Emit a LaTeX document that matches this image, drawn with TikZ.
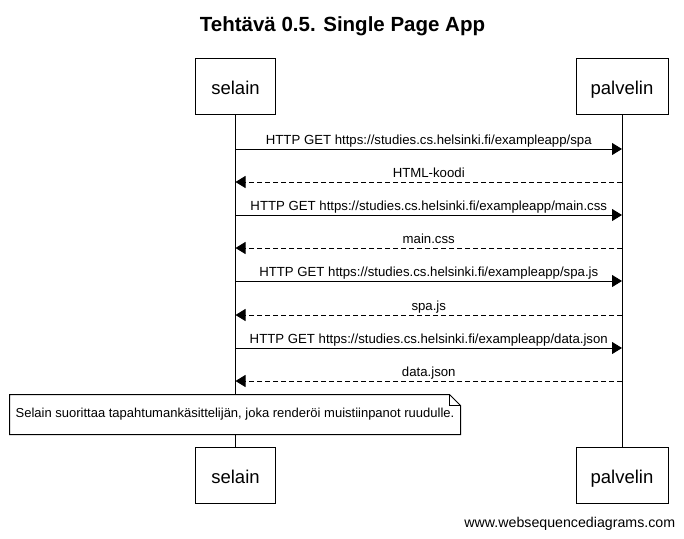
\documentclass[tikz,border=0pt]{standalone}
\usepackage{fontspec}
\setmainfont{Liberation Sans}
\usetikzlibrary{arrows.meta}

\begin{document}
\begin{tikzpicture}
[x=1pt,y=-1pt,line width=1pt,
 actor/.style={draw,fill=white,minimum height=56pt,inner sep=0pt,text height=16pt,text depth=0pt,font=\fontsize{18.5}{22}\selectfont},
 req/.style={-{Triangle[length=10pt,width=12pt]}},
 resp/.style={req,dash pattern=on 5pt off 3pt},
 msg/.style={anchor=base,yshift=4.5pt,inner sep=0pt,font=\fontsize{13.2}{15}\selectfont}]
\useasboundingbox (0,0) rectangle (684,538);
\node[anchor=base,font=\bfseries\fontsize{20.5}{24}\selectfont] (title) at (342.5,31.7) {Tehtävä 0.5. Single Page App};
% participants, top and bottom
\node[actor,minimum width=80pt] (s0) at (235.5,86) {selain};
\node[actor,minimum width=92pt] (p0) at (622,86) {palvelin};
\node[actor,minimum width=80pt] (s9) at (235.5,475.5) {selain};
\node[actor,minimum width=92pt] (p9) at (622,475.5) {palvelin};
\draw (s0) -- (s9);
\draw (p0) -- (p9);
\foreach \i/\y in {1/149,2/182,3/215,4/248,5/281,6/315,7/348,8/381}
{\coordinate (s\i) at (235.5,\y); \coordinate (p\i) at (622,\y);}
% messages
\foreach \from/\to/\kind/\txt in {
 s1/p1/req/{HTTP GET https://studies.cs.helsinki.fi/exampleapp/spa},
 p2/s2/resp/{HTML-koodi},
 s3/p3/req/{HTTP GET https://studies.cs.helsinki.fi/exampleapp/main.css},
 p4/s4/resp/{main.css},
 s5/p5/req/{HTTP GET https://studies.cs.helsinki.fi/exampleapp/spa.js},
 p6/s6/resp/{spa.js},
 s7/p7/req/{HTTP GET https://studies.cs.helsinki.fi/exampleapp/data.json},
 p8/s8/resp/{data.json}}
\draw[\kind] (\from) -- node[msg] {\txt} (\to);
% note
\node[fill=white,minimum width=450pt,minimum height=39pt,inner sep=0pt,font=\fontsize{13}{15}\selectfont] (note) at (235,414.5) {Selain suorittaa tapahtumankäsittelijän, joka renderöi muistiinpanot ruudulle.};
\draw (note.north west) -- ([xshift=-11pt]note.north east) -- ([yshift=-11pt]note.north east) -- (note.south east) -- (note.south west) -- cycle;
\draw ([xshift=-11pt]note.north east) |- ([yshift=-11pt]note.north east);
\node[anchor=base east,font=\fontsize{14.2}{16}\selectfont] (web) at (679,527.5) {www.websequencediagrams.com};
\end{tikzpicture}
\end{document}
